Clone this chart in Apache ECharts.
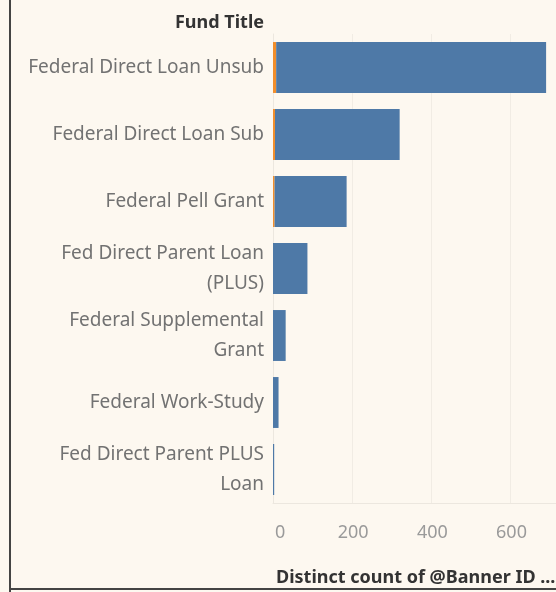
<!DOCTYPE html>
<html>
<head>
<meta charset="utf-8">
<script src="https://cdn.jsdelivr.net/npm/echarts@6/dist/echarts.min.js"></script>
<style>
html,body{margin:0;padding:0;background:#fdf8f0;}
#c{width:556px;height:592px;}
</style>
</head>
<body>
<div id="c"></div>
<script>
const categories = [
  "Federal Direct Loan Unsub",
  "Federal Direct Loan Sub",
  "Federal Pell Grant",
  "Fed Direct Parent Loan\n(PLUS)",
  "Federal Supplemental\nGrant",
  "Federal Work-Study",
  "Fed Direct Parent PLUS\nLoan"
];
const orangeValues = [8, 5, 4, 0, 0, 0, 0];
const blueValues = [682, 315, 182, 87, 32, 14, 3];
const tickLabels = ["0", "200", "400", "600"];

const FONT = "'Noto Sans', sans-serif";
const chart = echarts.init(document.getElementById('c'), null, {renderer: 'canvas'});
chart.setOption({
  backgroundColor: '#fdf8f0',
  animation: false,
  grid: {left: 273, right: 0, top: 34, bottom: 89, containLabel: false},
  xAxis: {
    type: 'value', min: 0, max: 715, interval: 200,
    axisLine: {show: true, lineStyle: {color: '#ece7df'}},
    axisTick: {show: false},
    splitLine: {show: true, lineStyle: {color: '#f1ece4', width: 1}},
    axisLabel: {
      color: '#9a9a9a', fontFamily: FONT, fontSize: 18, margin: 21,
      showMaxLabel: false, alignMinLabel: 'left', padding: [0, 0, 0, 2],
      formatter: function (v) { const i = tickLabels.indexOf(String(v)); return i >= 0 ? tickLabels[i] : ''; }
    }
  },
  yAxis: {
    type: 'category', data: categories, inverse: true,
    axisLine: {show: true, lineStyle: {color: '#ece7df'}},
    axisTick: {show: false},
    axisLabel: {color: '#727272', fontFamily: FONT, fontSize: 19, margin: 9, lineHeight: 30, align: 'right'}
  },
  series: [
    {type: 'bar', stack: 's', data: orangeValues, barWidth: '76%', itemStyle: {color: '#f28e2b'}, silent: true},
    {type: 'bar', stack: 's', data: blueValues, barWidth: '76%', itemStyle: {color: '#4e79a7'}, silent: true}
  ],
  graphic: [
    {type: 'text', right: 292, top: 14, style: {text: 'Fund Title', font: "bold 18px 'Noto Sans', sans-serif", fill: '#333333'}},
    {type: 'text', left: 276, top: 569, style: {text: 'Distinct count of @Banner ID ...', font: "bold 18px 'Noto Sans', sans-serif", fill: '#333333'}},
    {type: 'rect', shape: {x: 9, y: 0, width: 2, height: 592}, style: {fill: '#444444'}},
    {type: 'rect', shape: {x: 9, y: 588, width: 547, height: 2}, style: {fill: '#444444'}}
  ]
});
</script>
</body>
</html>
